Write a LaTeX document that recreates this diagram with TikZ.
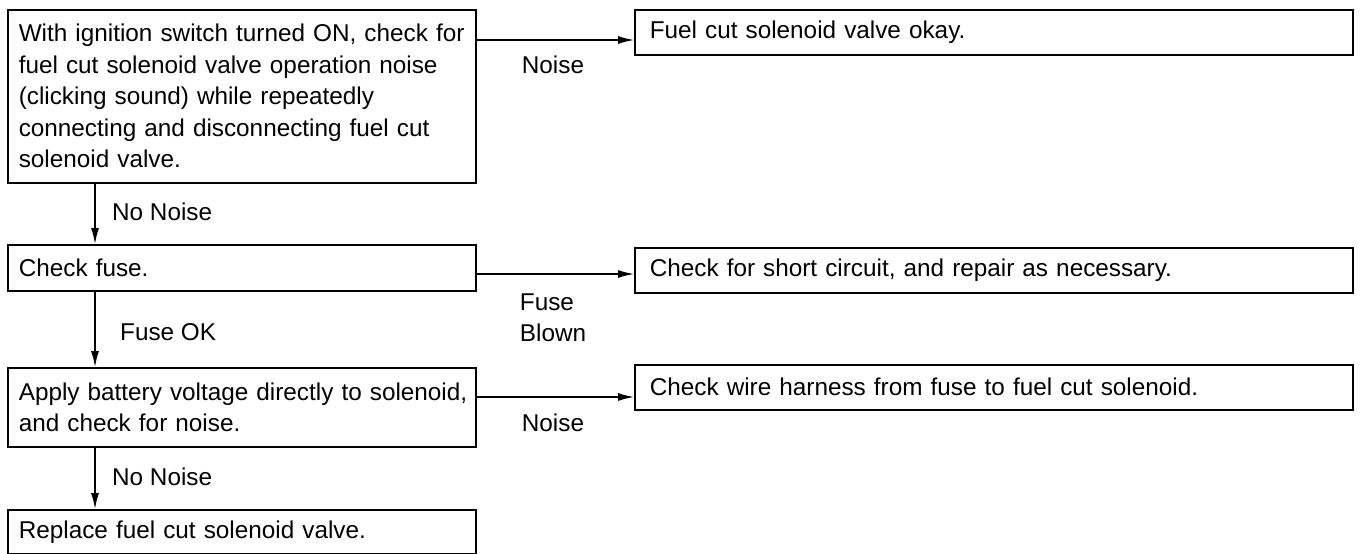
\documentclass[tikz,border=0pt]{standalone}
\usepackage{fontspec}
\setmainfont{Liberation Sans}
\usetikzlibrary{arrows.meta}
\begin{document}
\begin{tikzpicture}[x=1pt,y=-1pt,
  txt/.style={font=\fontsize{24.3}{31.5}\selectfont},
  lbox/.style={txt,draw,line width=1.6pt,rectangle,anchor=north west,inner xsep=11pt,inner ysep=0pt,align=left,text width=446pt},
  rbox/.style={txt,draw,line width=1.6pt,rectangle,anchor=north west,inner xsep=15pt,inner ysep=0pt,align=left,text width=688pt,minimum height=45pt},
  arr/.style={line width=1.4pt,-{Latex[length=16pt,width=8pt]}},
  lbl/.style={txt,inner sep=0pt,align=left}]
\useasboundingbox (0,0) rectangle (1360,554);
% left column
\node[lbox,minimum height=173pt] (b1) at (7,9) {\mbox{With ignition switch turned ON, check for}\\\mbox{fuel cut solenoid valve operation noise}\\\mbox{(clicking sound) while repeatedly}\\\mbox{connecting and disconnecting fuel cut}\\\mbox{solenoid valve.}};
\node[lbox,minimum height=46pt] (b3) at (7,244) {Check fuse.};
\node[lbox,minimum height=79pt] (b5) at (7,367) {\mbox{Apply battery voltage directly to solenoid,}\\\mbox{and check for noise.}};
\node[lbox,minimum height=44pt] (b7) at (7,509) {Replace fuel cut solenoid valve.};
% right column
\node[rbox] (b2) at (634,9) {Fuel cut solenoid valve okay.};
\node[rbox] (b4) at (634,247) {Check for short circuit, and repair as necessary.};
\node[rbox] (b6) at (634,364) {Check wire harness from fuse to fuel cut solenoid.};
% connector helpers
\coordinate (r1) at (0,40);
\coordinate (r2) at (0,274);
\coordinate (r3) at (0,397);
\coordinate (c) at (95,0);
% horizontal connectors
\draw[arr] (b1.east |- r1) -- (b2.west |- r1);
\draw[arr] (b3.east |- r2) -- (b4.west |- r2);
\draw[arr] (b5.east |- r3) -- (b6.west |- r3);
% vertical connectors
\draw[arr] (b1.south -| c) -- (b3.north -| c);
\draw[arr] (b3.south -| c) -- (b5.north -| c);
\draw[arr] (b5.south -| c) -- (b7.north -| c);
% labels
\node[lbl] (l1) at (553,65) {Noise};
\node[lbl] (l2) at (553,318) {Fuse\\Blown};
\node[lbl] (l3) at (553,423) {Noise};
\node[lbl,anchor=west] (l4) at (112,212) {No Noise};
\node[lbl,anchor=west] (l5) at (120,332) {Fuse OK};
\node[lbl,anchor=west] (l6) at (112,477) {No Noise};
\end{tikzpicture}
\end{document}
